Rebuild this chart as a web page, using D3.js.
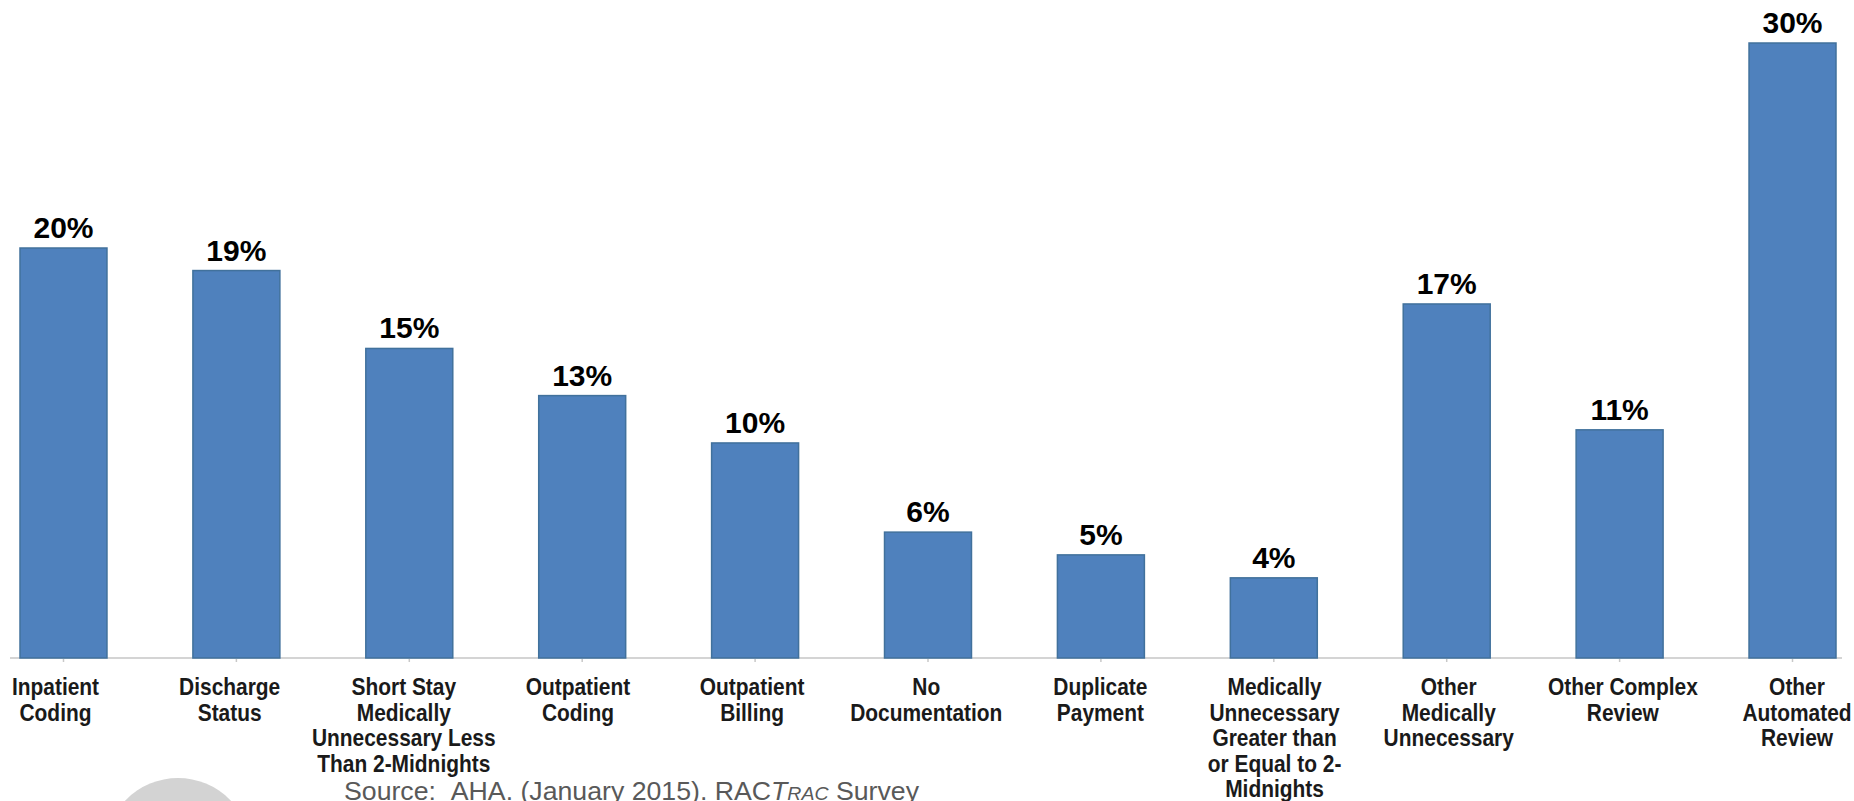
<!DOCTYPE html>
<html>
<head>
<meta charset="utf-8">
<script src="https://cdn.jsdelivr.net/npm/d3@7"></script>
<style>
  html, body { margin: 0; padding: 0; background: #ffffff; }
  svg { display: block; }
</style>
</head>
<body>
<svg id="chart" width="1854" height="801"></svg>
<script>
// RAC denial categories and share of denials
const categories = [
  "Inpatient Coding",
  "Discharge Status",
  "Short Stay Medically Unnecessary Less Than 2-Midnights",
  "Outpatient Coding",
  "Outpatient Billing",
  "No Documentation",
  "Duplicate Payment",
  "Medically Unnecessary Greater than or Equal to 2-Midnights",
  "Other Medically Unnecessary",
  "Other Complex Review",
  "Other Automated Review"
];

// Wrapped label lines for each category
const labelLines = [
  ["Inpatient", "Coding"],
  ["Discharge", "Status"],
  ["Short Stay", "Medically", "Unnecessary Less", "Than 2-Midnights"],
  ["Outpatient", "Coding"],
  ["Outpatient", "Billing"],
  ["No", "Documentation"],
  ["Duplicate", "Payment"],
  ["Medically", "Unnecessary", "Greater than", "or Equal to 2-", "Midnights"],
  ["Other", "Medically", "Unnecessary"],
  ["Other Complex", "Review"],
  ["Other", "Automated", "Review"]
];

// Share of denials (labels show these rounded to whole percents)
const shares = [0.200, 0.189, 0.151, 0.128, 0.1049, 0.0614, 0.0503, 0.0391, 0.1727, 0.1113, 0.300];

const yDomain = [0, 0.30];

const svg = d3.select("#chart");

const baseY = 658;
const topY = 43;

const x = d3.scaleBand()
  .domain(categories)
  .range([20, 1836])
  .paddingInner(0.497)
  .paddingOuter(0);

// Category text is spread on its own slightly wider grid
const xLabel = d3.scalePoint()
  .domain(categories)
  .range([55.5, 1797]);

const y = d3.scaleLinear()
  .domain(yDomain)
  .range([baseY, topY]);

const pct = d3.format(".0%");

// Baseline of the category axis
svg.append("line")
  .attr("x1", 10).attr("x2", 1842)
  .attr("y1", baseY).attr("y2", baseY)
  .attr("stroke", "#d4d4d4")
  .attr("stroke-width", 2);

// Small tick marks at each category
const axis = d3.axisBottom(x).tickSize(3).tickSizeOuter(0).tickFormat("");
const axisG = svg.append("g")
  .attr("transform", `translate(0,${baseY + 1})`)
  .call(axis);
axisG.select(".domain").remove();
axisG.selectAll(".tick line").attr("stroke", "#c8c8c8").attr("stroke-width", 1.5);

// Bars
svg.append("g")
  .selectAll("rect")
  .data(shares)
  .join("rect")
  .attr("x", (d, i) => x(categories[i]))
  .attr("y", d => y(d))
  .attr("width", x.bandwidth())
  .attr("height", d => y(0) - y(d))
  .attr("fill", "#4f81bd")
  .attr("stroke", "#41719c")
  .attr("stroke-width", 1.5);

// Value labels above bars
svg.append("g")
  .selectAll("text")
  .data(shares)
  .join("text")
  .attr("x", (d, i) => x(categories[i]) + x.bandwidth() / 2)
  .attr("y", d => y(d) - 10)
  .attr("text-anchor", "middle")
  .attr("font-family", "'Liberation Sans', Arial, sans-serif")
  .attr("font-weight", "bold")
  .attr("font-size", 30)
  .attr("fill", "#000000")
  .text(d => pct(d));

// Category labels, wrapped under each bar
const lineH = 25.6;
const catG = svg.append("g")
  .selectAll("g")
  .data(categories)
  .join("g")
  .attr("transform", d => `translate(${xLabel(d)},695) scale(0.91,1)`);

catG.append("text")
  .attr("text-anchor", "middle")
  .attr("font-family", "'Liberation Sans', Arial, sans-serif")
  .attr("font-weight", "bold")
  .attr("font-size", 23)
  .attr("fill", "#1a1a1a")
  .selectAll("tspan")
  .data((d, i) => labelLines[i])
  .join("tspan")
  .attr("x", 0)
  .attr("y", (d, j) => j * lineH)
  .text(d => d);

// Grey emblem at the lower left
svg.append("circle")
  .attr("cx", 178).attr("cy", 851).attr("r", 73)
  .attr("fill", "#d3d3d3");

// Source note
const src = svg.append("text")
  .attr("x", 344)
  .attr("y", 800)
  .attr("font-family", "'Liberation Sans', Arial, sans-serif")
  .attr("font-size", 26)
  .attr("fill", "#595959")
  .attr("textLength", 575)
  .attr("lengthAdjust", "spacingAndGlyphs");
src.append("tspan").text("Source:\u00a0\u00a0AHA. (January 2015). RAC");
src.append("tspan").attr("font-style", "italic").text("T");
src.append("tspan").attr("font-style", "italic").attr("font-size", 19).text("RAC");
src.append("tspan").text(" Survey");
</script>
</body>
</html>
